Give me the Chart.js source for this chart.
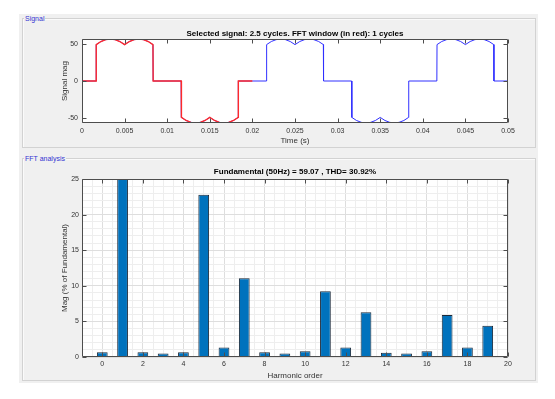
<!DOCTYPE html>
<html>
<head>
<meta charset="utf-8">
<script src="https://cdn.jsdelivr.net/npm/chart.js@4"></script>
<style>
html,body{margin:0;padding:0;background:#fff;width:555px;height:399px;overflow:hidden;position:relative;font-family:'Liberation Sans',Arial,sans-serif}
#panel{position:absolute;left:19px;top:14px;width:519px;height:369px;background:#f0f0f0}
.frame{position:absolute;border:1px solid #d2d2d2;box-shadow:inset 1px 1px 0 #fafafa}
.frame span{position:absolute;top:-5px;left:1px;padding:0 1px;background:#f0f0f0;color:#3434d2;font-size:7px;line-height:9px;white-space:nowrap}
canvas{position:absolute;left:0}
</style>
</head>
<body>
<div id="panel"></div>
<div class="frame" style="left:22px;top:18px;width:512px;height:128px"><span>Signal</span></div>
<div class="frame" style="left:22px;top:158px;width:512px;height:221px"><span>FFT analysis</span></div>
<canvas id="sig" width="555" height="150" style="top:0"></canvas>
<canvas id="fft" width="555" height="249" style="top:150px"></canvas>
<script>
// ---------- data ----------
const signalTime = [
  0,
  0.00165, 0.00167, 0.00222, 0.00278, 0.00333, 0.00389, 0.00444, 0.00500, 0.00556, 0.00611, 0.00667, 0.00722, 0.00778, 0.00833, 0.00835,
  0.01165, 0.01167, 0.01222, 0.01278, 0.01333, 0.01389, 0.01444, 0.01500, 0.01556, 0.01611, 0.01667, 0.01722, 0.01778, 0.01833, 0.01835,
  0.02000,
  0.02165, 0.02167, 0.02222, 0.02278, 0.02333, 0.02389, 0.02444, 0.02500, 0.02556, 0.02611, 0.02667, 0.02722, 0.02778, 0.02833, 0.02835,
  0.03165, 0.03167, 0.03222, 0.03278, 0.03333, 0.03389, 0.03444, 0.03500, 0.03556, 0.03611, 0.03667, 0.03722, 0.03778, 0.03833, 0.03835,
  0.04165, 0.04167, 0.04222, 0.04278, 0.04333, 0.04389, 0.04444, 0.04500, 0.04556, 0.04611, 0.04667, 0.04722, 0.04778, 0.04833, 0.04835,
  0.05000
];
const signalMag = [
  0,
  0, 49.4, 53.6, 56.1, 57, 56.1, 53.6, 49.4, 53.6, 56.1, 57, 56.1, 53.6, 49.4, 0,
  0, -49.4, -53.6, -56.1, -57, -56.1, -53.6, -49.4, -53.6, -56.1, -57, -56.1, -53.6, -49.4, 0,
  0,
  0, 49.4, 53.6, 56.1, 57, 56.1, 53.6, 49.4, 53.6, 56.1, 57, 56.1, 53.6, 49.4, 0,
  0, -49.4, -53.6, -56.1, -57, -56.1, -53.6, -49.4, -53.6, -56.1, -57, -56.1, -53.6, -49.4, 0,
  0, 49.4, 53.6, 56.1, 57, 56.1, 53.6, 49.4, 53.6, 56.1, 57, 56.1, 53.6, 49.4, 0,
  0
];
const fftWindow = [0, 0.02];

const harmonicOrder = [0, 1, 2, 3, 4, 5, 6, 7, 8, 9, 10, 11, 12, 13, 14, 15, 16, 17, 18, 19];
const harmonicMag   = [0.65, 100, 0.65, 0.5, 0.65, 22.8, 1.35, 11.05, 0.65, 0.5, 0.8, 9.25, 1.35, 6.3, 0.6, 0.5, 0.8, 5.9, 1.35, 4.4];

const signalTitle = 'Selected signal: 2.5 cycles. FFT window (in red): 1 cycles';
const fftTitle = 'Fundamental (50Hz) = 59.07 , THD= 30.92%';

// ---------- styling helpers ----------
Chart.defaults.font.family = "'Liberation Sans', Arial, sans-serif";
Chart.defaults.color = '#333';

function matlabFrame(tickLen) {
  return {
    id: 'matlabFrame',
    beforeDraw(chart) {
      const {ctx, chartArea: a} = chart;
      ctx.save();
      ctx.fillStyle = '#ffffff';
      ctx.fillRect(a.left, a.top, a.right - a.left, a.bottom - a.top);
      ctx.restore();
    },
    afterDatasetsDraw(chart) {
      const {ctx, chartArea: a, scales} = chart;
      const xs = scales.x, ys = scales.y;
      const L = Math.round(a.left) + 0.5, R = Math.round(a.right) - 0.5;
      const T = Math.round(a.top) + 0.5, B = Math.round(a.bottom) - 0.5;
      ctx.save();
      ctx.strokeStyle = '#4d4d4d';
      ctx.lineWidth = 1;
      ctx.beginPath();
      xs.ticks.forEach(t => {
        if (t.label === '' || t.label === undefined) return;
        const px = Math.round(xs.getPixelForValue(t.value)) + 0.5;
        ctx.moveTo(px, B); ctx.lineTo(px, B - tickLen);
        ctx.moveTo(px, T); ctx.lineTo(px, T + tickLen);
      });
      ys.ticks.forEach(t => {
        if (t.label === '' || t.label === undefined) return;
        const py = Math.round(ys.getPixelForValue(t.value)) + 0.5;
        ctx.moveTo(L, py); ctx.lineTo(L + tickLen, py);
        ctx.moveTo(R, py); ctx.lineTo(R - tickLen, py);
      });
      ctx.rect(L, T, R - L, B - T);
      ctx.stroke();
      ctx.restore();
    }
  };
}

// ---------- signal chart ----------
const allPts = signalTime.map((t, i) => ({x: t, y: signalMag[i]}));
const windowPts = allPts.filter(p => p.x >= fftWindow[0] && p.x <= fftWindow[1]);

new Chart(document.getElementById('sig'), {
  type: 'line',
  data: {
    datasets: [
      {data: windowPts, borderColor: '#ff2a2a', borderWidth: 1.4, pointRadius: 0, tension: 0, order: 0},
      {data: allPts, borderColor: '#3030ff', borderWidth: 1, pointRadius: 0, tension: 0, order: 1}
    ]
  },
  options: {
    responsive: false,
    animation: false,
    layout: {padding: {left: 20, right: 47, top: 29, bottom: 0}},
    plugins: {
      legend: {display: false},
      tooltip: {enabled: false},
      title: {display: true, text: signalTitle, fullSize: false, color: '#000',
              font: {size: 8, weight: 'bold', lineHeight: '10px'}, padding: {top: 0, bottom: 0}}
    },
    scales: {
      x: {
        type: 'linear', min: 0, max: 0.05,
        grid: {display: false, drawTicks: false}, border: {display: false},
        ticks: {stepSize: 0.005, autoSkip: false, maxRotation: 0, padding: 4, font: {size: 7}, color: '#333',
                callback: v => String(parseFloat(Number(v).toFixed(4)))},
        title: {display: true, text: 'Time (s)', color: '#333', font: {size: 8}, padding: {top: 0, bottom: 4}},
        afterFit: s => { s.height = 27; }
      },
      y: {
        type: 'linear', min: -57, max: 57,
        grid: {display: false, drawTicks: false}, border: {display: false},
        ticks: {stepSize: 50, includeBounds: false, autoSkip: false, padding: 4, font: {size: 7}, color: '#333'},
        title: {display: true, text: 'Signal mag', color: '#333', font: {size: 8}, padding: {top: 40, bottom: 0}},
        afterFit: s => { s.width = 62; }
      }
    }
  },
  plugins: [matlabFrame(4)]
});

// ---------- FFT chart ----------
new Chart(document.getElementById('fft'), {
  type: 'bar',
  data: {
    datasets: [{
      data: harmonicOrder.map((h, i) => ({x: h, y: harmonicMag[i]})),
      backgroundColor: '#0072BD',
      borderColor: '#1c2a3a',
      borderWidth: 1,
      barPercentage: 1.06,
      categoryPercentage: 1
    }]
  },
  options: {
    responsive: false,
    animation: false,
    layout: {padding: {left: 20, right: 47, top: 17, bottom: 0}},
    plugins: {
      legend: {display: false},
      tooltip: {enabled: false},
      title: {display: true, text: fftTitle, fullSize: false, color: '#000',
              font: {size: 8, weight: 'bold', lineHeight: '10px'}, padding: {top: 0, bottom: 2}}
    },
    scales: {
      x: {
        type: 'linear', min: -1, max: 20, offset: false,
        grid: {offset: false, drawTicks: false, lineWidth: 1,
               color: c => (c.tick && Number.isInteger(c.tick.value) && c.tick.value % 2 === 0) ? '#dedede' : '#eeeeee'},
        border: {display: false},
        ticks: {stepSize: 0.5, autoSkip: false, maxRotation: 0, padding: 3, font: {size: 7}, color: '#333',
                callback: v => (Number.isInteger(v) && v % 2 === 0) ? String(v) : ''},
        title: {display: true, text: 'Harmonic order', color: '#333', font: {size: 8}, padding: {top: 0, bottom: 18.5}},
        afterFit: s => { s.height = 42; }
      },
      y: {
        type: 'linear', min: 0, max: 25,
        grid: {drawTicks: false, lineWidth: 1,
               color: c => (c.tick && c.tick.value % 5 === 0) ? '#dedede' : '#eeeeee'},
        border: {display: false},
        ticks: {stepSize: 1, autoSkip: false, padding: 3, font: {size: 7}, color: '#333',
                callback: v => (v % 5 === 0) ? String(v) : ''},
        title: {display: true, text: 'Mag (% of Fundamental)', color: '#333', font: {size: 8}, padding: {top: 40, bottom: 0}},
        afterFit: s => { s.width = 62; }
      }
    }
  },
  plugins: [matlabFrame(4)]
});
</script>
</body>
</html>
